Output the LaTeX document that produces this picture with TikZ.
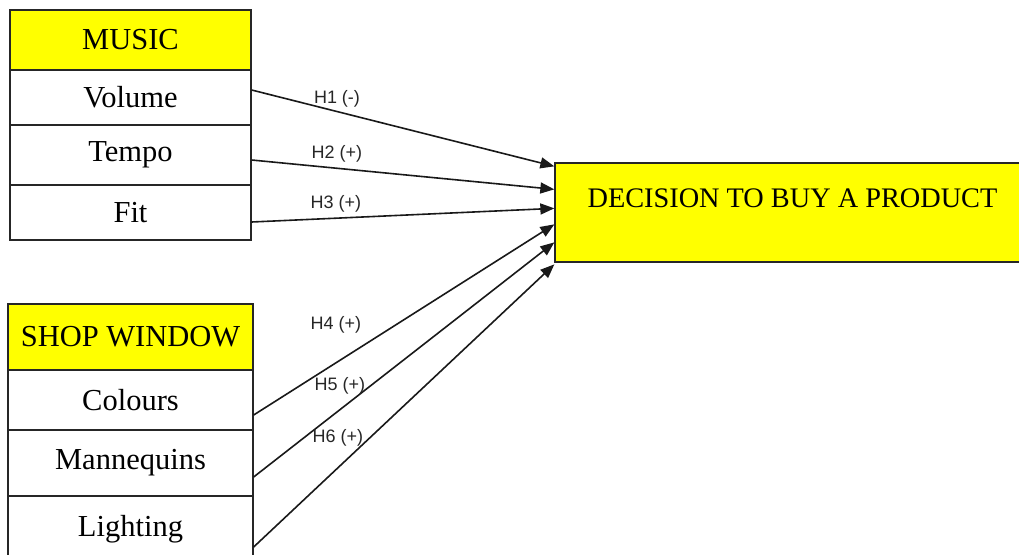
\documentclass[tikz,border=0pt]{standalone}
\usepackage{fontspec}
\setmainfont{Liberation Serif}
\newfontfamily\lblfont{Liberation Sans}
\usetikzlibrary{arrows.meta,calc}
\definecolor{boxyellow}{RGB}{255,255,0}
\tikzset{
  cell/.style={draw=black!85, line width=1.3pt, rectangle, inner sep=0pt, anchor=center,
    font=\fontsize{30.5}{32}\selectfont},
  head/.style={cell, fill=boxyellow},
  row/.style={cell, fill=white},
  hyp/.style={-{Triangle[length=14pt,width=11pt]}, line width=1.6pt, black!90},
  hlabel/.style={font=\lblfont\fontsize{18}{19}\selectfont, inner sep=0pt, text=black!85}
}
\begin{document}
\begin{tikzpicture}[x=1pt,y=-1pt]
\useasboundingbox (0,0) rectangle (1019,554);
% MUSIC block
\node[head, minimum width=241pt, minimum height=60pt] (music) at (130.5,40) {MUSIC};
\node[row, minimum width=241pt, minimum height=55pt] (vol) at (130.5,97.5) {Volume};
\node[row, minimum width=241pt, minimum height=60pt] (tempo) at (130.5,155) {Tempo};
\node[row, minimum width=241pt, minimum height=55pt] (fit) at (130.5,212.5) {Fit};
% SHOP WINDOW block
\node[head, minimum width=245pt, minimum height=66pt] (shop) at (130.5,337) {SHOP WINDOW};
\node[row, minimum width=245pt, minimum height=60pt] (col) at (130.5,400) {Colours};
\node[row, minimum width=245pt, minimum height=66pt] (man) at (130.5,463) {Mannequins};
\node[row, minimum width=245pt, minimum height=66pt] (light) at (130.5,529) {\raisebox{-2pt}{Lighting}};
% Decision block
\node[head, minimum width=470pt, minimum height=99pt] (dec) at (790,212.5) {};
\node[font=\fontsize{28.3}{30}\selectfont, inner sep=0pt] (dectext) at (792.5,198) {DECISION TO BUY A PRODUCT};
% arrows
\draw[hyp] ($(vol.east)+(0,-7.5)$) -- ($(dec.north west)+(0,4)$);
\draw[hyp] ($(tempo.east)+(0,5)$) -- ($(dec.north west)+(0,27)$);
\draw[hyp] ($(fit.east)+(0,9.5)$) -- ($(dec.north west)+(0,46)$);
\draw[hyp] ($(col.east)+(0,15)$) -- ($(dec.north west)+(0,62)$);
\draw[hyp] ($(man.east)+(0,14)$) -- ($(dec.north west)+(0,80)$);
\draw[hyp] ($(light.east)+(0,18)$) -- ($(dec.north west)+(0,102)$);
% labels
\node[hlabel] (l1) at (337,99) {H1 (-)};
\node[hlabel] (l2) at (337,154) {H2 (+)};
\node[hlabel] (l3) at (336,204) {H3 (+)};
\node[hlabel] (l4) at (336,325) {H4 (+)};
\node[hlabel] (l5) at (340,386) {H5 (+)};
\node[hlabel] (l6) at (338,438) {H6 (+)};
\end{tikzpicture}
\end{document}
